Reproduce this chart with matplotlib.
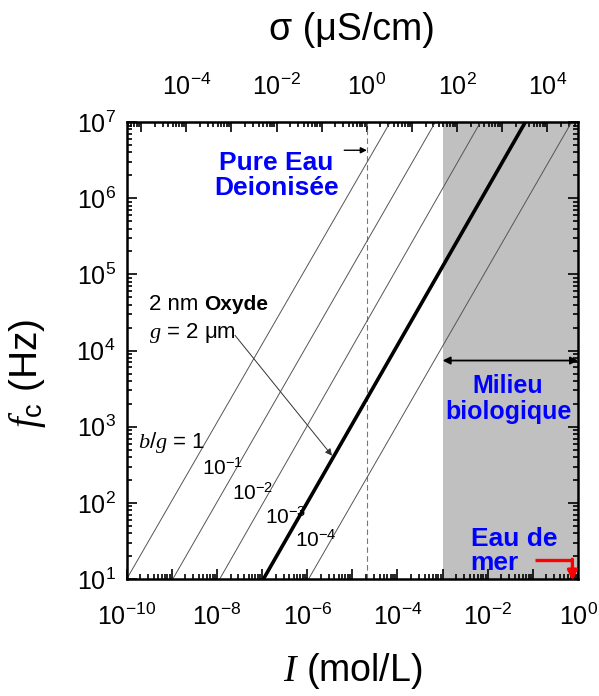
import numpy as np
import matplotlib
matplotlib.use("Agg")
import matplotlib.pyplot as plt
from matplotlib.ticker import LogLocator, FuncFormatter, NullFormatter

plt.rcParams['font.family'] = ['Liberation Sans', 'DejaVu Sans']
plt.rcParams['mathtext.fontset'] = 'custom'
plt.rcParams['mathtext.rm'] = 'Liberation Sans'
plt.rcParams['mathtext.it'] = 'Liberation Serif:italic'
plt.rcParams['mathtext.bf'] = 'Liberation Sans:bold'

# ---- data ----
ratio_labels = ["1", "10$^{-1}$", "10$^{-2}$", "10$^{-3}$", "10$^{-4}$"]
I_at_10Hz = [1.0e-10, 1.05e-9, 1.15e-8, 1.07e-7, 1.07e-6]      # mol/L where f_c = 10 Hz
I_at_10MHz = [6.9e-5, 6.9e-4, 6.9e-3, 6.8e-2, 7.2e-1]          # mol/L where f_c = 1e7 Hz
f_ends = [1e1, 1e7]
thick_index = 3                                                 # 2 nm oxide, g = 2 um

sigma_per_I = 10 ** 4.68        # uS/cm per mol/L (top axis conversion)
I_pure_water = 2.1e-5           # dashed line (sigma = 1 uS/cm)
bio_range = [1e-3, 1.0]
bio_arrow_f = 7.4e3
sea_water_I = 0.75

xlim = [1e-10, 1e0]
ylim = [1e1, 1e7]

fig = plt.figure(figsize=(5.99, 6.96), dpi=100)
ax = fig.add_axes([0.2115, 0.168, 0.7535, 0.6566])
ax.set_xscale('log')
ax.set_yscale('log')
ax.set_xlim(xlim)
ax.set_ylim(ylim)

ax.axvspan(bio_range[0], bio_range[1], color='#c0c0c0', lw=0, zorder=0)
ax.axvline(I_pure_water, color='#777777', lw=0.8, ls=(0, (5, 3)), zorder=1)

for i, (a, b) in enumerate(zip(I_at_10Hz, I_at_10MHz)):
    if i == thick_index:
        ax.plot([a, b], f_ends, color='black', lw=2.6, zorder=3, solid_capstyle='butt')
    else:
        ax.plot([a, b], f_ends, color='#555555', lw=0.7, zorder=2)

# ticks
def even_fmt(v, pos):
    e = int(round(np.log10(v)))
    if e % 2 == 0:
        return r'$\mathdefault{10^{%d}}$' % e
    return ''

def all_fmt(v, pos):
    e = int(round(np.log10(v)))
    return r'$\mathdefault{10^{%d}}$' % e

ax.xaxis.set_major_locator(LogLocator(base=10, numticks=30))
ax.xaxis.set_minor_locator(LogLocator(base=10, subs=np.arange(2, 10), numticks=100))
ax.xaxis.set_major_formatter(FuncFormatter(even_fmt))
ax.xaxis.set_minor_formatter(NullFormatter())
ax.yaxis.set_major_locator(LogLocator(base=10, numticks=30))
ax.yaxis.set_minor_locator(LogLocator(base=10, subs=np.arange(2, 10), numticks=100))
ax.yaxis.set_major_formatter(FuncFormatter(all_fmt))
ax.yaxis.set_minor_formatter(NullFormatter())

ax.tick_params(which='both', direction='in', top=False, right=True, width=1.2, labelsize=18)
ax.tick_params(which='major', length=7.5)
ax.tick_params(which='minor', length=3.5)
ax.tick_params(axis='x', pad=18)
ax.tick_params(axis='y', pad=8)
for s in ax.spines.values():
    s.set_linewidth(1.8)

sec = ax.secondary_xaxis('top', functions=(lambda x: x * sigma_per_I, lambda s: s / sigma_per_I))
sec.xaxis.set_major_locator(LogLocator(base=10, numticks=30))
sec.xaxis.set_minor_locator(LogLocator(base=10, subs=np.arange(2, 10), numticks=100))
sec.xaxis.set_major_formatter(FuncFormatter(even_fmt))
sec.xaxis.set_minor_formatter(NullFormatter())
sec.tick_params(which='both', direction='in', width=1.2, labelsize=18, pad=16)
sec.tick_params(which='major', length=7.5)
sec.tick_params(which='minor', length=3.5)
sec.set_xlabel('σ (μS/cm)', fontsize=27, labelpad=24)

ax.set_xlabel(r'$\mathit{I}$ (mol/L)', fontsize=27, labelpad=15)
ax.set_ylabel(r'$\mathit{f}_{\mathrm{c}}$ (Hz)', fontsize=28)
ax.yaxis.set_label_coords(-0.175, 0.45)

# annotations
blue = '#0000ff'
ax.text(0.331, 0.884, 'Pure Eau\nDeionisée', transform=ax.transAxes, color=blue,
        fontsize=19, fontweight='bold', ha='center', va='center', linespacing=1.05)
ax.text(0.845, 0.394, 'Milieu\nbiologique', transform=ax.transAxes, color=blue,
        fontsize=18, fontweight='bold', ha='center', va='center', linespacing=1.1)
ax.text(0.762, 0.061, 'Eau de\nmer', transform=ax.transAxes, color=blue,
        fontsize=19, fontweight='bold', ha='left', va='center', linespacing=1.0)

ax.text(0.0496, 0.6, '2 nm', transform=ax.transAxes, fontsize=16, ha='left', va='center')
ax.text(0.172, 0.6, 'Oxyde', transform=ax.transAxes, fontsize=15, fontweight='bold',
        ha='left', va='center')
ax.text(0.0496, 0.538, r'$\mathit{g}$ = 2 μm', transform=ax.transAxes, fontsize=16,
        ha='left', va='center')

ax.text(0.025, 0.298, r'$\mathit{b/g}$ = 1', transform=ax.transAxes, fontsize=16,
        ha='left', va='center')
lab_pos = [(0.167, 0.243), (0.234, 0.188), (0.307, 0.136), (0.373, 0.085)]
for (px, py), lab in zip(lab_pos, ratio_labels[1:]):
    ax.text(px, py, lab, transform=ax.transAxes, fontsize=15, ha='left', va='center')

# arrow from "g = 2 um" to thick line
ax.annotate('', xy=(10 ** -5.45, 10 ** 2.62), xytext=(10 ** -7.6, 10 ** 4.2),
            arrowprops=dict(arrowstyle='-|>', color='#333333', lw=0.7,
                            mutation_scale=10, shrinkA=0, shrinkB=0), zorder=4)
# small arrow pointing to pure water line
ax.annotate('', xy=(I_pure_water, 10 ** 6.63), xytext=(6.6e-6, 10 ** 6.63),
            arrowprops=dict(arrowstyle='-|>', color='black', lw=1.0,
                            mutation_scale=9, shrinkA=0, shrinkB=0), zorder=4)
# biological medium double arrow
ax.annotate('', xy=(bio_range[1], bio_arrow_f), xytext=(bio_range[0], bio_arrow_f),
            arrowprops=dict(arrowstyle='<|-|>', color='black', lw=1.3,
                            mutation_scale=11, shrinkA=0, shrinkB=0), zorder=4)
# sea water red arrow
ax.plot([10 ** -0.95, sea_water_I], [10 ** 1.25, 10 ** 1.25], color='red', lw=2.4,
        zorder=5, solid_capstyle='butt')
ax.annotate('', xy=(sea_water_I, 10 ** 0.98), xytext=(sea_water_I, 10 ** 1.26),
            arrowprops=dict(arrowstyle='-|>', color='red', lw=2.4,
                            mutation_scale=14, shrinkA=0, shrinkB=0),
            zorder=5, annotation_clip=False)

fig.savefig('out.png', dpi=100)
